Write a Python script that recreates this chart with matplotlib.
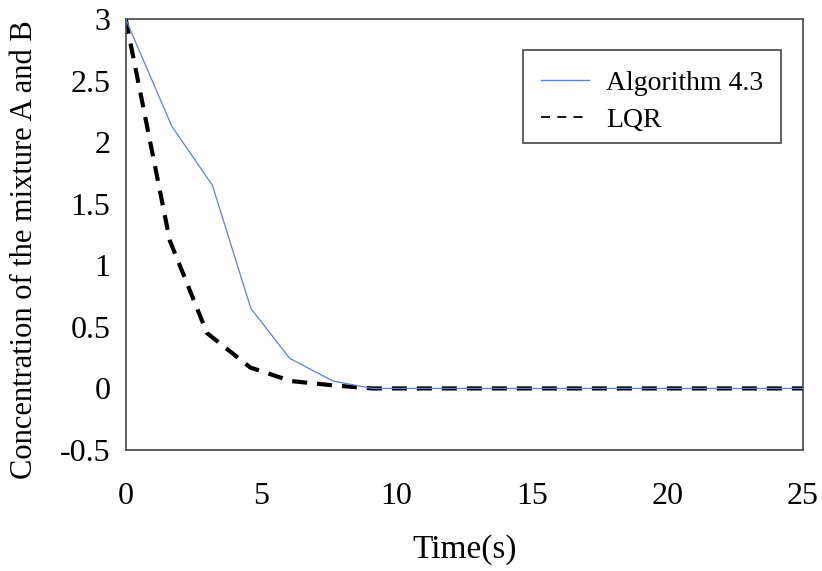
import matplotlib
matplotlib.use("Agg")
import matplotlib.pyplot as plt
from matplotlib.lines import Line2D
from matplotlib.patches import Rectangle

plt.rcParams["font.family"] = ["Liberation Serif", "DejaVu Serif"]

# data
t_alg = [0, 1.7, 3.2, 4.62, 6.05, 7.65, 9.1, 25]
y_alg = [3.0, 2.13, 1.65, 0.65, 0.245, 0.06, 0.0, 0.0]

t_lqr = [0, 1.63, 3.0, 4.6, 6.1, 7.65, 9.1, 25]
y_lqr = [3.0, 1.2, 0.45, 0.17, 0.06, 0.025, 0.0, 0.0]

xticks = [0, 5, 10, 15, 20, 25]
yticks = [-0.5, 0, 0.5, 1, 1.5, 2, 2.5, 3]
ytick_labels = ["-0.5", "0", "0.5", "1", "1.5", "2", "2.5", "3"]

BLUE = "#5a7fe3"
SPINE = "#444444"
W, H = 822, 571

fig = plt.figure(figsize=(W / 100, H / 100), dpi=100)
ax = fig.add_axes([0.1529, 0.2119, 0.9769 - 0.1529, 0.9667 - 0.2119])

ax.plot(t_alg, y_alg, color=BLUE, linewidth=0.9, zorder=3)
ax.plot(t_lqr, y_lqr, color="black", linewidth=3.0, dashes=(3.6, 2.4),
        dash_capstyle="butt", zorder=2)

ax.set_xlim(0, 25)
ax.set_ylim(-0.5, 3)
ax.set_xticks(xticks)
ax.set_yticks(yticks)
ax.set_yticklabels(ytick_labels)
ax.tick_params(axis="both", length=0, labelsize=23)
ax.tick_params(axis="y", pad=11)
ax.tick_params(axis="x", pad=23)
for s in ax.spines.values():
    s.set_color(SPINE)
    s.set_linewidth(1.2)

ax.set_xlabel("Time(s)", fontsize=24, labelpad=17)
# y label placed by hand, slightly below the axes centre as in the reference
fig.text(25 / W, 1 - 250 / H, "Concentration of the mixture A and B",
         rotation=90, ha="center", va="center", fontsize=22)

# legend: entries without frame, frame drawn as a separate box
handles = [
    Line2D([], [], color=BLUE, linewidth=1.0),
    Line2D([], [], color="black", linewidth=1.3, dashes=(5, 4)),
]
fig.legend(handles, ["Algorithm 4.3", "LQR"], loc="center left",
           bbox_to_anchor=(540.7 / W, 1 - 101.5 / H), fontsize=20,
           frameon=False, handlelength=1.74, handletextpad=0.61,
           borderpad=0, labelspacing=0.41, borderaxespad=0)
fig.patches.append(Rectangle((522.7 / W, 1 - 143.3 / H), 258.3 / W, 93.3 / H,
                             transform=fig.transFigure, fill=False,
                             edgecolor=SPINE, linewidth=1.2))

fig.savefig("out.png", dpi=100)
